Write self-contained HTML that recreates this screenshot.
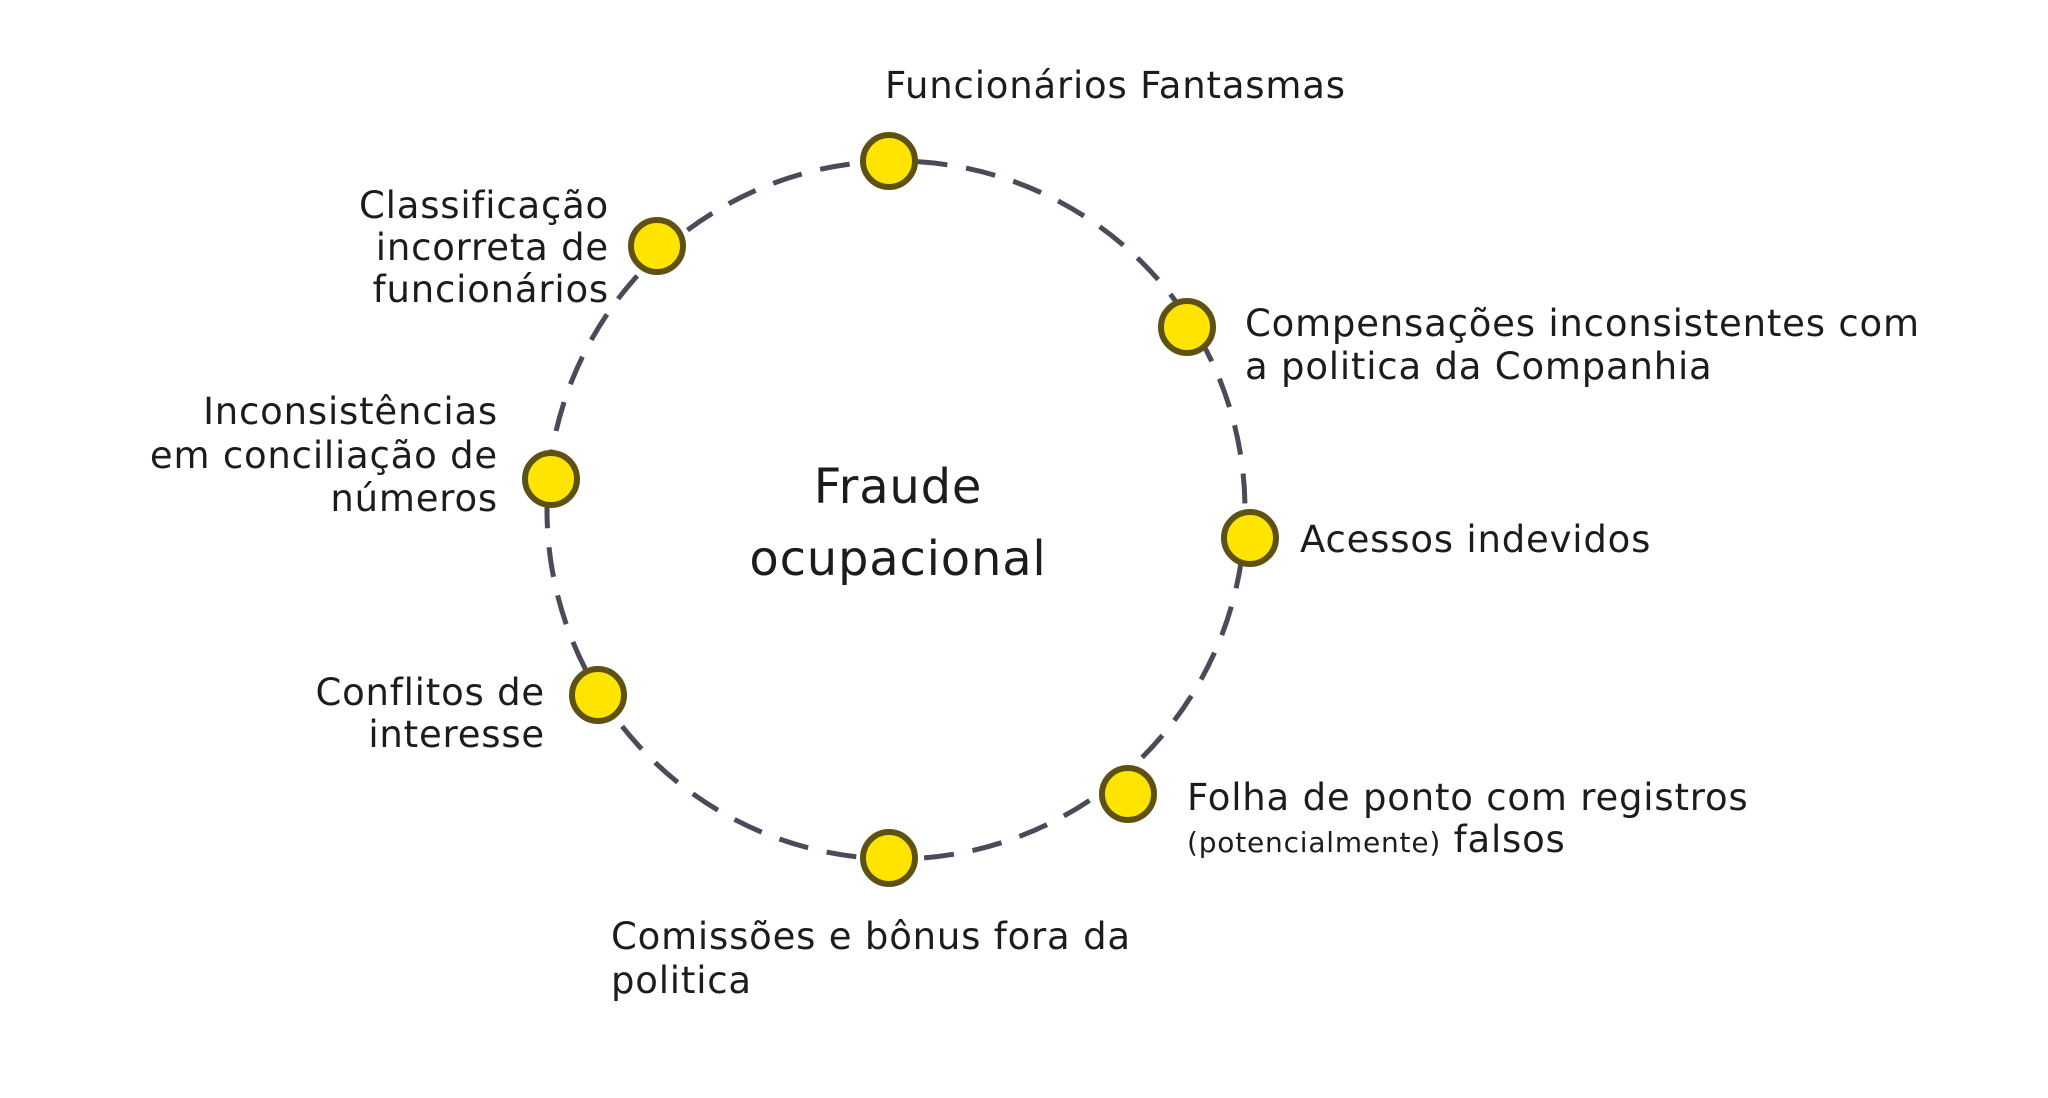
<!DOCTYPE html>
<html><head><meta charset="utf-8"><style>
html,body{margin:0;padding:0;background:#fff;}
svg{display:block}
text{font-family:"DejaVu Sans","Liberation Sans",sans-serif;font-size:37px;letter-spacing:0.8px;fill:#1c1c1c;}
</style></head><body>
<svg width="2048" height="1098" viewBox="0 0 2048 1098">
<circle cx="896" cy="510" r="349" fill="none" stroke="#4a4a58" stroke-width="5" stroke-dasharray="30 19"/>
<g fill="#ffe400" stroke="#5e5212" stroke-width="6">
<circle cx="889" cy="161" r="26"/>
<circle cx="657" cy="246" r="26"/>
<circle cx="1187" cy="327" r="26"/>
<circle cx="551" cy="479" r="26"/>
<circle cx="1250" cy="538" r="26"/>
<circle cx="598" cy="695" r="26"/>
<circle cx="1128" cy="794" r="26"/>
<circle cx="889" cy="858" r="26"/>
</g>
<text x="885" y="98">Funcionários Fantasmas</text>
<g text-anchor="end">
<text x="609" y="218">Classificação</text>
<text x="609" y="260">incorreta de</text>
<text x="609" y="302">funcionários</text>
<text x="498" y="424">Inconsistências</text>
<text x="498" y="468">em conciliação de</text>
<text x="498" y="511">números</text>
<text x="545" y="705">Conflitos de</text>
<text x="545" y="747">interesse</text>
</g>
<text x="1245" y="336">Compensações inconsistentes com</text>
<text x="1245" y="379">a politica da Companhia</text>
<text x="1300" y="552">Acessos indevidos</text>
<text x="1187" y="810">Folha de ponto com registros</text>
<text x="1187" y="852"><tspan style="font-size:28px">(potencialmente)</tspan> falsos</text>
<text x="611" y="949">Comissões e bônus fora da</text>
<text x="611" y="993">politica</text>
<g text-anchor="middle">
<text x="898" y="503" style="font-size:48px">Fraude</text>
<text x="898" y="575" style="font-size:48px">ocupacional</text>
</g>
</svg>
</body></html>
